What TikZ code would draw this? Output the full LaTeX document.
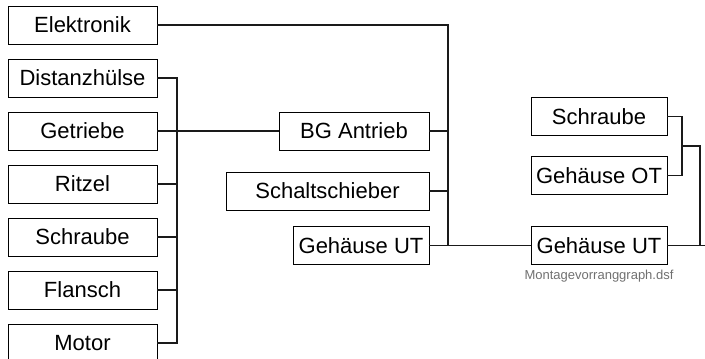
\documentclass[tikz,border=0pt]{standalone}
\usepackage{fontspec}
\setmainfont{Liberation Sans}
\usetikzlibrary{positioning}
\definecolor{ink}{HTML}{000000}
\definecolor{line}{HTML}{1A1A1A}
\definecolor{muted}{HTML}{707070}

\begin{document}
\begin{tikzpicture}[x=0.75pt, y=-0.75pt,
    part/.style={draw=ink, line width=0.75pt, minimum height=28.5pt, inner sep=2pt, outer sep=0pt,
                 text=ink, font=\fontsize{16.5}{18}\selectfont},
    link/.style={draw=line, line width=1pt}]
  \useasboundingbox (0,0) rectangle (705,358);

  % linke Spalte: Einzelteile
  \node[part, minimum width=111.75pt] (elek) at (82.5,25) {Elektronik};
  \node[part, minimum width=111.75pt, below=11.25pt of elek] (dist) {Distanzhülse};
  \node[part, minimum width=111.75pt, below=11.25pt of dist] (getr) {Getriebe};
  \node[part, minimum width=111.75pt, below=11.25pt of getr] (ritz) {Ritzel};
  \node[part, minimum width=111.75pt, below=11.25pt of ritz] (schrL) {Schraube};
  \node[part, minimum width=111.75pt, below=11.25pt of schrL] (flan) {Flansch};
  \node[part, minimum width=111.75pt, below=11.25pt of flan] (motor) {Motor};

  % mittlere Spalte
  \node[part, minimum width=112.5pt, anchor=east] (bga) at (429,131) {BG Antrieb};
  \node[part, minimum width=152.25pt, anchor=east] (schalt) at (429,191) {Schaltschieber};
  \node[part, minimum width=102pt, anchor=east] (gutM) at (429,245.5) {Gehäuse UT};

  % rechte Spalte
  \node[part, minimum width=102pt] (schrR) at (599,116.5) {Schraube};
  \node[part, minimum width=102pt, below=15.75pt of schrR] (got) {Gehäuse OT};
  \node[part, minimum width=102pt] (gutR) at (599,245.5) {Gehäuse UT};
  \node[text=muted, font=\fontsize{9.75}{11}\selectfont, below=1pt of gutR] (file) {Montagevorranggraph.dsf};

  \coordinate (lbus) at (177,0);
  \coordinate (mbus) at (448,0);
  \coordinate (rbus) at (682,0);
  \coordinate (obus) at (700,0);
  \coordinate (rjoin) at (682,146);
  \coordinate (gout) at (706,245.5);

  % Sammelschiene links
  \draw[link] (dist.east) -- (dist.east -| lbus) -- (motor.east -| lbus) -- (motor.east);
  \draw[link] (ritz.east) -- (ritz.east -| lbus);
  \draw[link] (schrL.east) -- (schrL.east -| lbus);
  \draw[link] (flan.east) -- (flan.east -| lbus);
  \draw[link] (getr.east) -- (bga.west);

  % Sammelschiene Mitte
  \draw[link] (elek.east) -- (elek.east -| mbus) -- (gutM.east -| mbus);
  \draw[link] (bga.east) -- (bga.east -| mbus);
  \draw[link] (schalt.east) -- (schalt.east -| mbus);
  \draw[link] (gutM.east) -- (gutR.west);

  % rechts
  \draw[link] (schrR.east) -- (schrR.east -| rbus) -- (got.east -| rbus) -- (got.east);
  \draw[link] (rjoin) -- (rjoin -| obus) -- (gutR.east -| obus);
  \draw[link] (gutR.east) -- (gout);
\end{tikzpicture}
\end{document}
